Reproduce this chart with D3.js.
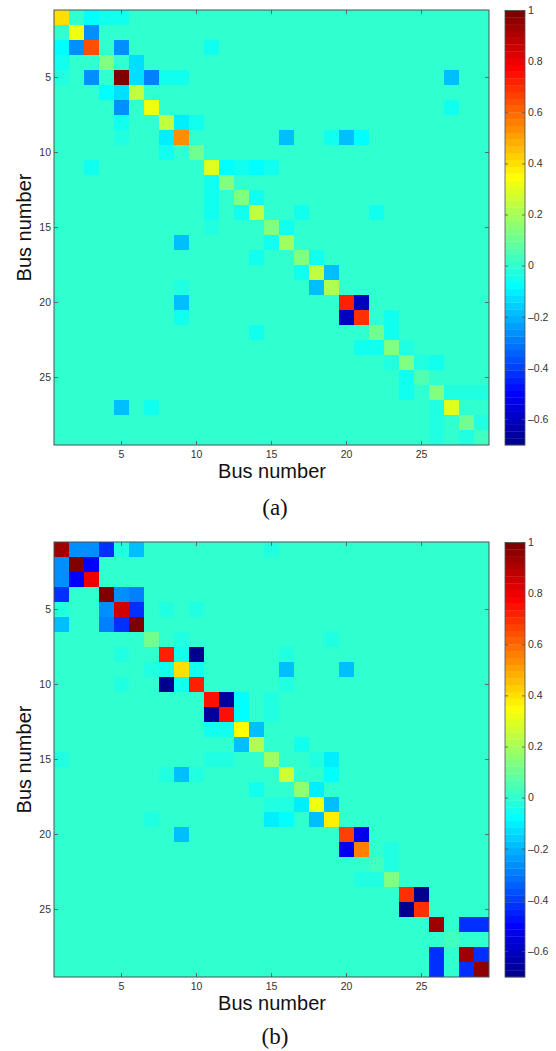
<!DOCTYPE html>
<html>
<head>
<meta charset="utf-8">
<title>Bus number matrices</title>
<script src="https://cdn.jsdelivr.net/npm/d3@7"></script>
<style>
  html, body { margin: 0; padding: 0; background: #fff; }
  svg { display: block; }
</style>
</head>
<body>
<script>
// non-zero cells only, [row, column, value], everything else is 0
const cellsA = [
  [1,1,0.4],[1,3,-0.07],[1,4,-0.05],[1,5,-0.04],
  [2,2,0.33],[2,3,-0.27],
  [3,1,-0.07],[3,2,-0.27],[3,3,0.65],[3,5,-0.27],[3,11,-0.05],
  [4,1,-0.05],[4,4,0.15],[4,6,-0.12],
  [5,1,-0.03],[5,3,-0.27],[5,5,1],[5,6,-0.12],[5,7,-0.28],[5,8,-0.06],[5,9,-0.04],[5,27,-0.18],
  [6,4,-0.08],[6,5,-0.12],[6,6,0.23],
  [7,5,-0.27],[7,7,0.33],[7,27,-0.06],
  [8,5,-0.04],[8,8,0.23],[8,9,-0.1],[8,10,-0.05],
  [9,5,-0.03],[9,8,-0.1],[9,9,0.53],[9,16,-0.17],[9,19,-0.05],[9,20,-0.18],[9,21,-0.07],
  [10,8,-0.05],[10,10,0.1],
  [11,3,-0.05],[11,11,0.3],[11,12,-0.07],[11,13,-0.06],[11,14,-0.07],[11,15,-0.06],
  [12,11,-0.06],[12,12,0.13],
  [13,11,-0.05],[13,13,0.13],[13,14,-0.04],
  [14,11,-0.06],[14,13,-0.05],[14,14,0.25],[14,17,-0.06],[14,22,-0.05],
  [15,11,-0.03],[15,15,0.13],[15,16,-0.05],
  [16,9,-0.17],[16,15,-0.05],[16,16,0.18],
  [17,14,-0.05],[17,17,0.13],[17,18,-0.06],
  [18,17,-0.06],[18,18,0.25],[18,19,-0.17],
  [19,9,-0.03],[19,18,-0.17],[19,19,0.22],
  [20,9,-0.18],[20,20,0.72],[20,21,-0.62],
  [21,9,-0.06],[21,20,-0.62],[21,21,0.7],[21,23,-0.05],
  [22,14,-0.05],[22,22,0.11],[22,23,-0.05],
  [23,21,-0.05],[23,22,-0.05],[23,23,0.13],[23,24,-0.03],
  [24,23,-0.03],[24,24,0.15],[24,25,-0.03],[24,26,-0.05],
  [25,24,-0.04],[25,25,0.06],
  [26,24,-0.04],[26,26,0.15],[26,27,-0.02],[26,28,-0.02],[26,29,-0.02],
  [27,5,-0.18],[27,7,-0.05],[27,26,-0.02],[27,27,0.3],
  [28,26,-0.02],[28,28,0.1],[28,29,-0.02],
  [29,26,-0.02],[29,28,-0.02],[29,29,0.04]
];

const cellsB = [
  [1,1,0.93],[1,2,-0.25],[1,3,-0.25],[1,4,-0.41],[1,5,-0.03],[1,6,-0.18],[1,15,-0.02],
  [2,1,-0.25],[2,2,0.99],[2,3,-0.49],
  [3,1,-0.26],[3,2,-0.49],[3,3,0.79],
  [4,1,-0.42],[4,4,1],[4,5,-0.25],[4,6,-0.3],
  [5,1,-0.02],[5,4,-0.25],[5,5,0.85],[5,6,-0.42],[5,8,-0.02],[5,10,-0.02],
  [6,1,-0.18],[6,4,-0.3],[6,5,-0.43],[6,6,1],
  [7,7,0.12],[7,9,-0.02],[7,19,-0.02],
  [8,5,-0.02],[8,8,0.73],[8,9,-0.05],[8,10,-0.68],[8,16,-0.02],
  [9,7,-0.02],[9,8,-0.05],[9,9,0.4],[9,10,-0.04],[9,16,-0.17],[9,20,-0.17],
  [10,5,-0.02],[10,8,-0.68],[10,9,-0.05],[10,10,0.72],[10,16,-0.02],
  [11,11,0.76],[11,12,-0.67],[11,13,-0.07],[11,15,-0.015],
  [12,11,-0.67],[12,12,0.76],[12,13,-0.07],[12,15,-0.015],
  [13,11,-0.06],[13,12,-0.06],[13,13,0.35],[13,14,-0.18],
  [14,13,-0.18],[14,14,0.21],[14,17,-0.05],
  [15,1,-0.02],[15,11,-0.02],[15,12,-0.02],[15,15,0.2],[15,18,-0.03],[15,19,-0.1],
  [16,8,-0.02],[16,9,-0.17],[16,10,-0.015],[16,16,0.28],[16,19,-0.07],
  [17,14,-0.06],[17,17,0.16],[17,18,-0.1],
  [18,15,-0.03],[18,16,-0.01],[18,17,-0.1],[18,18,0.31],[18,19,-0.17],
  [19,7,-0.025],[19,15,-0.1],[19,16,-0.07],[19,18,-0.17],[19,19,0.37],
  [20,9,-0.17],[20,20,0.68],[20,21,-0.52],
  [21,20,-0.52],[21,21,0.55],[21,23,-0.03],
  [22,22,0.03],[22,23,-0.03],
  [23,21,-0.02],[23,22,-0.02],[23,23,0.13],
  [24,24,0.7],[24,25,-0.7],
  [25,24,-0.7],[25,25,0.7],
  [26,26,0.93],[26,28,-0.43],[26,29,-0.43],
  [27,27,0.03],
  [28,26,-0.43],[28,28,0.93],[28,29,-0.43],
  [29,26,-0.43],[29,28,-0.43],[29,29,0.95]
];

const busTicks = [5, 10, 15, 20, 25];
const barTicks = [1, 0.8, 0.6, 0.4, 0.2, 0, -0.2, -0.4, -0.6];
const nBus = 29;
const vMin = -0.7;
const vMax = 1;

const w = 556;
const h = 1051;
const axisGray = "#4d5355";
const textGray = "#333";

// matlab jet, 64 levels
const clamp01 = (v) => Math.max(0, Math.min(1, v));
const jet64 = d3.range(1, 65).map((i) => {
  const t = i / 64;
  return d3.rgb(
    255 * clamp01(1.5 - Math.abs(4 * t - 3)),
    255 * clamp01(1.5 - Math.abs(4 * t - 2)),
    255 * clamp01(1.5 - Math.abs(4 * t - 1))
  ).formatHex();
});
const colour = d3.scaleQuantize().domain([vMin, vMax]).range(jet64);

const svg = d3.select("body").append("svg").attr("width", w).attr("height", h);

const styleAxis = function (g) {
  g.select(".domain").remove();
  g.selectAll("line").attr("stroke", axisGray).attr("stroke-width", 0.8);
  g.selectAll("text")
    .attr("fill", textGray)
    .style("font-family", "'Liberation Sans', Arial, sans-serif")
    .style("font-size", "10.5px");
};

const drawPanel = function (top, cells, tag, tagBaseline) {
  const left = 54;
  const size = 435;
  const x = d3.scaleLinear().domain([0.5, nBus + 0.5]).range([left, left + size]);
  const y = d3.scaleLinear().domain([0.5, nBus + 0.5]).range([top, top + size]);

  const lookup = new Map(cells.map((d) => [d[0] + "-" + d[1], d[2]]));
  const grid = d3.cross(d3.range(1, nBus + 1), d3.range(1, nBus + 1));

  const g = svg.append("g");
  g.selectAll("rect")
    .data(grid)
    .enter()
    .append("rect")
    .attr("x", (d) => x(d[1] - 0.5))
    .attr("y", (d) => y(d[0] - 0.5))
    .attr("width", x(1.5) - x(0.5))
    .attr("height", y(1.5) - y(0.5))
    .attr("fill", (d) => colour(lookup.get(d[0] + "-" + d[1]) || 0));

  svg.append("rect")
    .attr("x", left)
    .attr("y", top)
    .attr("width", size)
    .attr("height", size)
    .attr("fill", "none")
    .attr("stroke", axisGray)
    .attr("stroke-width", 1);

  svg.append("g")
    .attr("transform", `translate(0,${top + size})`)
    .call(d3.axisBottom(x).tickValues(busTicks).tickSizeInner(-4).tickSizeOuter(0).tickPadding(6).offset(0))
    .call(styleAxis);
  svg.append("g")
    .attr("transform", `translate(${left},0)`)
    .call(d3.axisLeft(y).tickValues(busTicks).tickSizeInner(-4).tickSizeOuter(0).tickPadding(3).offset(0))
    .call(styleAxis);
  svg.append("g")
    .attr("transform", `translate(0,${top})`)
    .call(d3.axisTop(x).tickValues(busTicks).tickSizeInner(-4).tickSizeOuter(0).tickFormat("").offset(0))
    .call(styleAxis);
  svg.append("g")
    .attr("transform", `translate(${left + size},0)`)
    .call(d3.axisRight(y).tickValues(busTicks).tickSizeInner(-4).tickSizeOuter(0).tickFormat("").offset(0))
    .call(styleAxis);

  // colour bar
  const barLeft = 505;
  const barW = 20;
  const barY = d3.scaleLinear().domain([vMin, vMax]).range([top + size, top + 0.5]);
  const levels = d3.range(64);
  const barStep = (vMax - vMin) / 64;
  svg.append("g")
    .selectAll("rect")
    .data(levels)
    .enter()
    .append("rect")
    .attr("x", barLeft)
    .attr("y", (d) => barY(vMin + (d + 1) * barStep))
    .attr("width", barW)
    .attr("height", barY(vMin) - barY(vMin + barStep) + 0.3)
    .attr("fill", (d) => jet64[d]);
  svg.append("rect")
    .attr("x", barLeft)
    .attr("y", top + 0.5)
    .attr("width", barW)
    .attr("height", size - 0.5)
    .attr("fill", "none")
    .attr("stroke", axisGray)
    .attr("stroke-width", 0.8);
  svg.append("g")
    .attr("transform", `translate(${barLeft + barW},0)`)
    .call(d3.axisRight(barY).tickValues(barTicks).tickSizeInner(-3).tickSizeOuter(0).tickPadding(3).tickFormat((d) => String(d).replace("-", "\u2013")).offset(0))
    .call(styleAxis);
  svg.append("g")
    .attr("transform", `translate(${barLeft},0)`)
    .call(d3.axisLeft(barY).tickValues(barTicks).tickSizeInner(-3).tickSizeOuter(0).tickFormat("").offset(0))
    .call(styleAxis);

  // labels
  svg.append("text")
    .text("Bus number")
    .attr("x", 272)
    .attr("y", top + size + 33)
    .attr("text-anchor", "middle")
    .attr("fill", "#111")
    .style("font-family", "'Liberation Sans', Arial, sans-serif")
    .style("font-size", "20px");
  svg.append("text")
    .text("Bus number")
    .attr("transform", `translate(31,${top + size / 2}) rotate(-90)`)
    .attr("text-anchor", "middle")
    .attr("fill", "#111")
    .style("font-family", "'Liberation Sans', Arial, sans-serif")
    .style("font-size", "20px");
  svg.append("text")
    .text(tag)
    .attr("x", 275)
    .attr("y", tagBaseline)
    .attr("text-anchor", "middle")
    .attr("fill", "#111")
    .style("font-family", "'Liberation Serif', 'Times New Roman', serif")
    .style("font-size", "23px");
};

drawPanel(10, cellsA, "(a)", 515);
drawPanel(542, cellsB, "(b)", 1044);
</script>
</body>
</html>
